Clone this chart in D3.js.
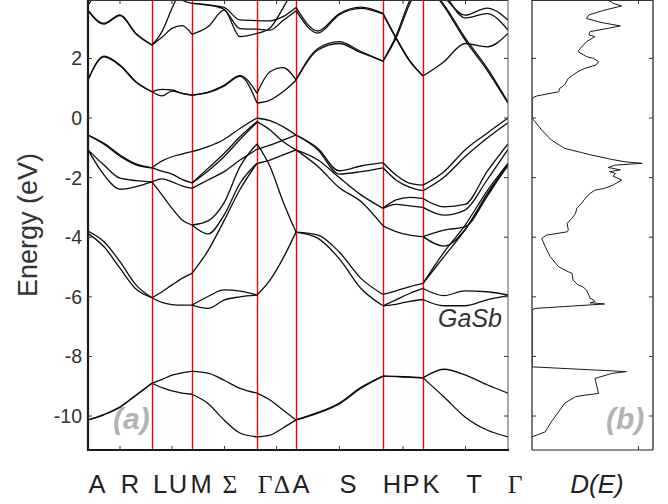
<!DOCTYPE html>
<html><head><meta charset="utf-8">
<script src="https://cdn.jsdelivr.net/npm/d3@7"></script>
<style>body{margin:0;background:#fff}svg{display:block}</style>
</head><body>
<svg id="c" width="668" height="504"></svg>
<script>
const N = null;
// k-path sampling (arbitrary path-length units) and high-symmetry points
const kGrid = [0,16,32,48,64,74,84,94,104,120,136,152,169,182,195,208,230,251,273,295,308,322,335,356,377,399,420];
const symK = [0,64,104,169,208,295,335,420];           // A L M Γ A H K Γ
const pathLabels = ["A","R","L","U","M","Σ","Γ","Δ","A","S","H","P","K","T","Γ"];
const greek = new Set(["Σ","Γ","Δ"]);
const energyTicks = [2,0,-2,-4,-6,-8,-10];

// valence bands (eV) on kGrid
const v1 = [-0.57,-0.85,-1.24,-1.54,-1.67,-1.44,-1.30,-1.21,-1.13,-0.96,-0.72,-0.35,0.00,-0.09,-0.29,-0.57,-1.02,-1.77,-1.61,-1.50,-1.91,-2.19,-2.25,-1.80,-1.07,-0.51,0.00];
const v2 = [-0.57,-0.88,-1.28,-1.57,-1.67,-1.78,-1.88,-2.06,-2.18,-1.69,-1.19,-0.63,-0.12,-0.40,-0.79,-1.07,-1.41,-1.99,-2.58,-3.03,-2.75,-2.66,-2.70,-2.98,-2.90,-1.80,-0.87];
const v3 = [-1.07,-1.58,-2.02,-2.10,-2.14,-2.04,-2.14,-2.28,-2.36,-2.08,-1.80,-1.41,-1.05,-0.91,-0.74,-0.57,-1.07,-1.88,-1.80,-1.67,-2.08,-2.33,-2.44,-1.99,-1.30,-0.68,-0.16];
const v4 = [-1.07,-1.91,-2.39,-2.30,-2.14,-2.58,-3.03,-3.42,-3.59,-3.45,-2.85,-1.63,-0.87,-1.63,-2.80,-3.83,-3.93,-4.49,-5.38,-5.92,-5.80,-5.66,-5.55,-4.50,-3.60,-2.45,-1.52];
const v5 = [-3.79,-4.15,-4.82,-5.60,-6.03,-5.83,-5.60,-5.38,-5.21,-4.45,-3.45,-2.40,-1.52,-1.41,-1.24,-1.07,-1.63,-2.33,-2.80,-3.62,-3.81,-3.93,-3.98,-3.76,-3.65,-2.64,-1.52];
const v6 = [-3.87,-4.32,-5.04,-5.74,-6.03,-6.19,-6.26,-6.28,-6.28,-5.99,-5.77,-5.81,-5.94,-5.44,-4.71,-3.83,-4.04,-4.71,-5.72,-6.30,-6.10,-5.88,-5.72,-5.96,-5.80,-5.83,-5.94];
const v7 = [N,N,N,N,N,N,N,N,-3.59,-3.89,-3.26,-2.19,-1.52,N,N,N,N,N,N,-3.03,-2.90,-2.95,-3.00,-3.26,-3.09,-2.08,-1.05];
const v8 = [N,N,N,N,N,N,N,N,-6.28,-6.39,-6.11,-6.00,-5.94,N,N,N,N,N,N,-6.30,-6.25,-6.15,-6.09,-6.30,-6.30,-6.10,-5.96];
const v9 = [N,N,N,N,N,N,N,N,-2.18,-1.78,-1.30,-0.72,-0.15,N,N,N,N,N,N,N,N,N,-3.98,-4.30,-3.75,-2.55,-1.55];
const v10 = [N,N,N,N,N,N,N,N,N,N,N,N,N,N,N,N,N,N,N,N,N,N,-5.55,-4.65,-3.75,-2.60,-1.60];
const s1 = [-10.13,-9.95,-9.70,-9.30,-8.90,-8.77,-8.63,-8.55,-8.50,-8.56,-8.80,-9.07,-9.23,-9.46,-9.80,-10.13,-9.90,-9.60,-9.07,-8.66,-8.68,-8.70,-8.72,-8.43,-8.62,-8.95,-9.23];
const s2 = [-10.13,-9.95,-9.70,-9.30,-8.90,-9.05,-9.16,-9.23,-9.27,-9.58,-10.13,-10.57,-10.70,-10.64,-10.40,-10.13,-9.88,-9.57,-9.04,-8.66,-8.67,-8.69,-8.72,-9.36,-10.03,-10.47,-10.70];
// conduction bands (eV)
const c1 = [1.28,2.05,1.75,1.20,0.88,0.96,0.94,0.83,0.77,0.87,1.10,1.42,0.83,1.55,1.69,1.28,2.33,2.56,2.23,1.91,2.75,3.96,4.60,3.75,2.62,1.61,0.50];
const c2 = [1.28,2.08,1.78,1.22,0.88,0.74,0.90,0.83,0.77,0.85,1.07,1.40,0.50,0.60,0.88,1.27,2.28,2.50,2.19,1.91,2.68,3.85,4.60,3.80,2.70,1.68,0.53];
const c3 = [3.62,3.18,3.46,2.84,2.45,2.71,3.01,3.10,2.81,3.06,3.62,2.73,2.84,3.02,3.69,4.50,N,N,N,N,N,N,N,N,N,N,N];
const c4 = [3.60,3.15,3.44,2.82,2.45,2.90,3.68,4.40,5.00,N,N,N,N,N,N,N,N,N,N,N,N,N,N,N,N,N,N];
const c5 = [N,N,N,N,5.00,4.60,4.20,3.95,3.85,3.79,3.71,3.29,3.27,3.26,3.40,3.71,2.92,3.50,3.72,3.51,2.70,1.92,1.41,1.89,2.50,2.39,2.84];
const c6 = [N,N,N,N,N,N,N,N,3.85,3.80,3.65,3.00,2.98,2.95,3.27,3.60,2.85,3.46,3.68,3.49,2.67,1.89,1.41,N,N,N,N];
const c7 = [N,N,N,N,N,N,N,N,N,N,N,N,N,N,N,N,N,N,N,N,N,N,4.60,4.05,3.45,3.69,3.29];
const c8 = [N,N,N,N,N,N,N,N,N,N,N,N,N,N,N,N,N,N,N,N,N,N,4.60,4.15,3.36,3.50,2.95];
const c9 = [3.79,4.50,5.00,5.00,5.00,N,N,N,N,N,N,N,N,N,N,N,N,N,N,N,N,N,N,N,N,N,N];
const bands = [s1,s2,v1,v2,v3,v4,v5,v6,v7,v8,v9,v10,c1,c2,c3,c4,c5,c6,c7,c8,c9];

// density of states (energy, arbitrary units)
const dosE = [3.96,3.85,3.76,3.62,3.46,3.34,3.20,3.09,3.01,2.90,2.79,2.73,2.56,2.34,2.23,2.06,2.00,1.89,1.78,1.67,1.56,1.33,1.11,1.00,0.88,0.74,0.69,0.60,
  0.00,-0.40,-0.74,-1.02,-1.16,-1.24,-1.39,-1.47,-1.52,-1.58,-1.66,-1.74,-1.80,-1.86,-1.95,-2.08,-2.25,-2.36,-2.42,-2.53,-2.64,-2.86,-3.03,-3.20,-3.37,-3.53,-3.76,-3.82,-3.93,-4.04,
  -4.32,-4.65,-4.99,-5.16,-5.21,-5.44,-5.60,-5.66,-5.77,-5.94,-6.05,-6.11,-6.16,-6.20,-6.24,-6.39,-6.44,-8.35,-8.51,-8.57,-8.74,-8.90,-9.24,-9.30,-9.35,-9.57,-9.86,-10.19,-10.53,-10.70];
const dosD = [0.63,0.67,0.74,0.60,0.47,0.45,0.58,0.73,0.63,0.48,0.47,0.52,0.45,0.40,0.38,0.45,0.51,0.55,0.53,0.44,0.38,0.30,0.27,0.23,0.22,0.04,0.01,0.00,
  0.00,0.08,0.16,0.27,0.41,0.49,0.66,0.77,0.91,0.69,0.63,0.73,0.64,0.69,0.67,0.74,0.67,0.60,0.52,0.48,0.45,0.41,0.37,0.36,0.33,0.29,0.30,0.29,0.12,0.08,
  0.11,0.15,0.22,0.30,0.33,0.34,0.38,0.42,0.45,0.47,0.48,0.51,0.52,0.48,0.60,0.025,0.00,0.00,0.78,0.66,0.52,0.53,0.55,0.44,0.36,0.27,0.22,0.16,0.11,0.00];
const dosTicks = [0.88];

// ---------- layout ----------
const svg = d3.select('#c');
const P = {l:88, r:508, t:0.5, b:450};
const D = {l:532, r:653};
const y = d3.scaleLinear().domain([-11.14,3.96]).range([P.b,0]);
const x = d3.scaleLinear().domain([0,420]).range([P.l,P.r]);
const xd = d3.scaleLinear().domain([0,1]).range([D.l,D.r]);
const font = "'Liberation Sans', Arial, sans-serif";
const labelX = [97,130,160,178,201,230,265,282,301,348,392,411,431,474,515];

const defs = svg.append('defs');
defs.append('clipPath').attr('id','cb').append('rect').attr('x',P.l).attr('y',0).attr('width',P.r-P.l).attr('height',P.b);
defs.append('clipPath').attr('id','cd').append('rect').attr('x',D.l).attr('y',0).attr('width',D.r-D.l).attr('height',P.b);

// red high-symmetry lines
const gb = svg.append('g').attr('clip-path','url(#cb)');
gb.selectAll('line.sym').data(symK.slice(1,-1)).join('line')
  .attr('x1',d=>Math.round(x(d))+0.5).attr('x2',d=>Math.round(x(d))+0.5).attr('y1',0).attr('y2',P.b)
  .attr('stroke','#ff0000').attr('stroke-width',1.4);

// bands
const segIdx = symK.map(k=>kGrid.indexOf(k));
const lineGen = d3.line().x(d=>x(d[0])).y(d=>y(d[1])).curve(d3.curveMonotoneX);
bands.forEach(vals=>{
  for(let s=0;s<segIdx.length-1;s++){
    const pts=[]; let ok=true;
    for(let i=segIdx[s];i<=segIdx[s+1];i++){ if(vals[i]==null){ok=false;break;} pts.push([kGrid[i],vals[i]]); }
    if(ok) gb.append('path').attr('d',lineGen(pts)).attr('fill','none').attr('stroke','#0d0d0d').attr('stroke-width',1.3);
  }
});

// band frame
svg.append('line').attr('x1',P.l).attr('x2',P.r).attr('y1',P.t).attr('y2',P.t).attr('stroke','#333').attr('stroke-width',1);
svg.append('line').attr('x1',P.r).attr('x2',P.r).attr('y1',0).attr('y2',P.b).attr('stroke','#555').attr('stroke-width',1);
svg.append('line').attr('x1',P.l).attr('x2',P.r+1).attr('y1',P.b).attr('y2',P.b).attr('stroke','#1a1a1a').attr('stroke-width',2);
svg.append('line').attr('x1',P.l).attr('x2',P.l).attr('y1',0).attr('y2',P.b+1).attr('stroke','#1a1a1a').attr('stroke-width',2.2);

// ticks
const midK = d3.pairs(symK).map(([a,b])=>(a+b)/2);
const tk = svg.append('g').attr('stroke','#333').attr('stroke-width',1);
midK.forEach(k=>{
  tk.append('line').attr('x1',x(k)).attr('x2',x(k)).attr('y1',P.b).attr('y2',P.b-4);
  tk.append('line').attr('x1',x(k)).attr('x2',x(k)).attr('y1',0).attr('y2',4);
});
energyTicks.forEach(e=>{
  tk.append('line').attr('x1',P.l).attr('x2',P.l+4).attr('y1',y(e)).attr('y2',y(e));
  tk.append('line').attr('x1',P.r-4).attr('x2',P.r).attr('y1',y(e)).attr('y2',y(e));
  tk.append('line').attr('x1',D.l).attr('x2',D.l+4).attr('y1',y(e)).attr('y2',y(e));
  tk.append('line').attr('x1',D.r-4).attr('x2',D.r).attr('y1',y(e)).attr('y2',y(e));
});
dosTicks.forEach(t=>{
  tk.append('line').attr('x1',xd(t)).attr('x2',xd(t)).attr('y1',0).attr('y2',4);
  tk.append('line').attr('x1',xd(t)).attr('x2',xd(t)).attr('y1',P.b).attr('y2',P.b-4);
});

// energy tick labels
svg.append('g').selectAll('text').data(energyTicks).join('text')
  .attr('x',82).attr('y',d=>y(d)).attr('dy','0.36em').attr('text-anchor','end')
  .attr('font-family',font).attr('font-size',19.5).attr('fill','#333').text(d=>String(d));

// axis label
svg.append('text').attr('transform','translate(37,225) rotate(-90)').attr('text-anchor','middle')
  .attr('font-family',font).attr('font-size',27).attr('fill','#333').text('Energy (eV)');

// path labels
svg.append('g').selectAll('text').data(pathLabels).join('text')
  .attr('x',(d,i)=>labelX[i]).attr('y',493).attr('text-anchor','middle')
  .attr('font-family',d=>greek.has(d)?"'Liberation Serif', 'Times New Roman', serif":font)
  .attr('font-size',25.5).attr('fill','#222').text(d=>d);

// DOS
const gd = svg.append('g').attr('clip-path','url(#cd)');
gd.append('path').datum(d3.zip(dosE,dosD))
  .attr('d',d3.line().x(d=>xd(d[1])).y(d=>y(d[0])))
  .attr('fill','none').attr('stroke','#1a1a1a').attr('stroke-width',1);
svg.append('line').attr('x1',D.l).attr('x2',D.r).attr('y1',P.t).attr('y2',P.t).attr('stroke','#333');
svg.append('line').attr('x1',D.l).attr('x2',D.l).attr('y1',0).attr('y2',P.b).attr('stroke','#222').attr('stroke-width',1.2);
svg.append('line').attr('x1',D.r).attr('x2',D.r).attr('y1',0).attr('y2',P.b).attr('stroke','#444').attr('stroke-width',1.5);
svg.append('line').attr('x1',D.l).attr('x2',D.r).attr('y1',P.b).attr('y2',P.b).attr('stroke','#222').attr('stroke-width',1.2);

svg.append('text').attr('x',597).attr('y',493).attr('text-anchor','middle')
  .attr('font-family',font).attr('font-style','italic').attr('font-size',26).attr('fill','#222').text('D(E)');

// annotations
svg.append('text').attr('x',113).attr('y',429).attr('font-family',font).attr('font-weight','bold')
  .attr('font-style','italic').attr('font-size',30).attr('fill','#b3b3b3').text('(a)');
svg.append('text').attr('x',606).attr('y',429).attr('font-family',font).attr('font-weight','bold')
  .attr('font-style','italic').attr('font-size',30).attr('fill','#b3b3b3').text('(b)');
svg.append('text').attr('x',502).attr('y',327).attr('text-anchor','end').attr('font-family',font)
  .attr('font-style','italic').attr('font-size',25).attr('fill','#333').text('GaSb');
</script>
</body></html>
